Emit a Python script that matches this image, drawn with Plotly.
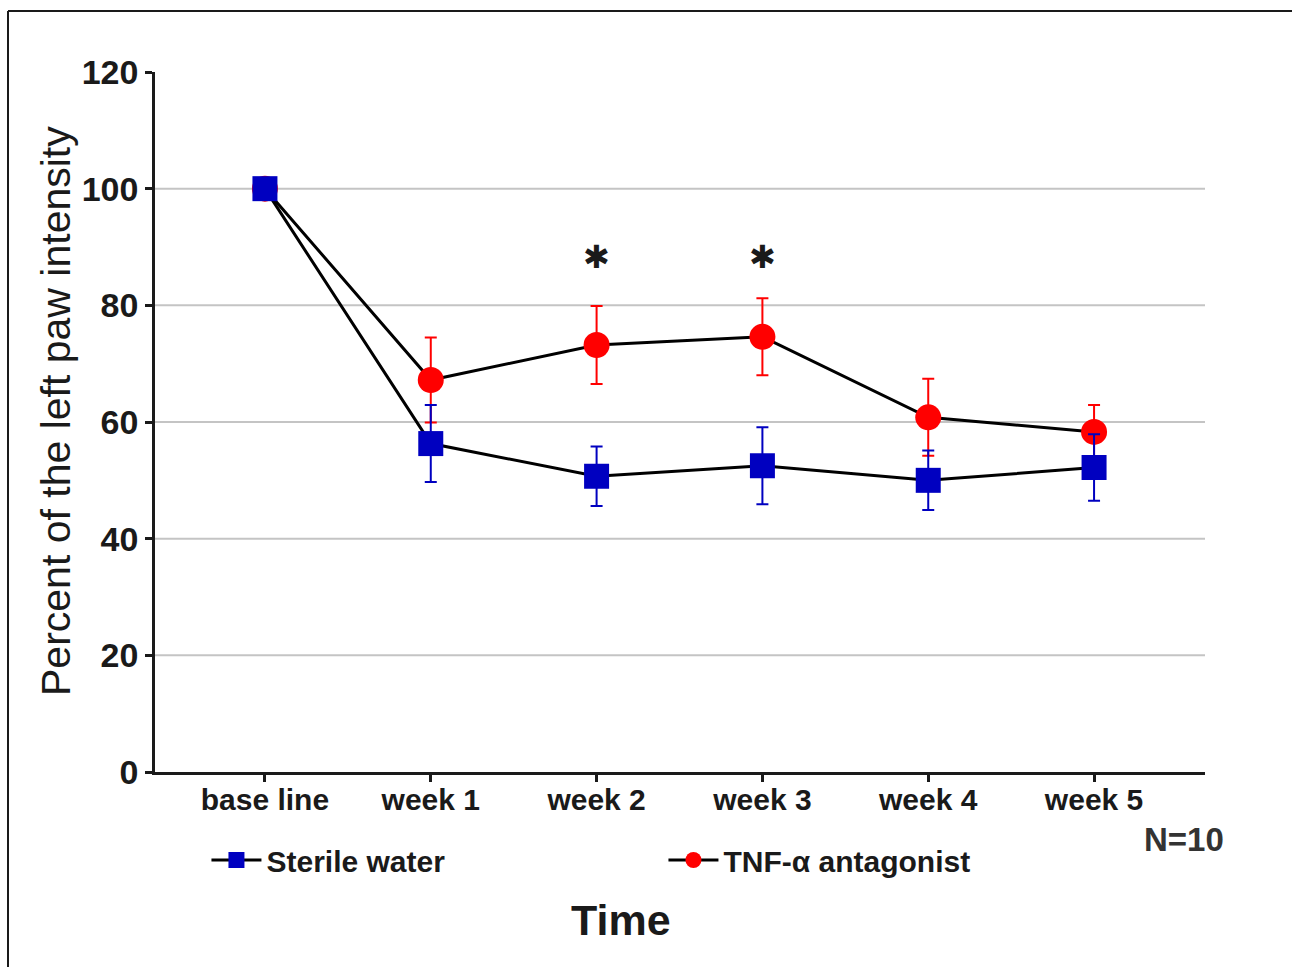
import plotly.graph_objects as go

# Time points and group means (percent of baseline) with error bars
timepoints = ["base line", "week 1", "week 2", "week 3", "week 4", "week 5"]
tnf_mean = [100, 67.2, 73.2, 74.6, 60.8, 58.3]
tnf_err = [0, 7.3, 6.7, 6.6, 6.6, 4.6]
water_mean = [100, 56.3, 50.7, 52.5, 50.0, 52.2]
water_err = [0, 6.6, 5.1, 6.6, 5.1, 5.7]
significant_points = ["week 2", "week 3"]
significance_level = 88.3
y_ticks = [0, 20, 40, 60, 80, 100, 120]
grid_levels = [20, 40, 60, 80, 100]

FONT = "Liberation Sans, Arial, sans-serif"
INK = "#1a1a1a"
BLUE = "#0000c0"
RED = "#ff0000"

fig = go.Figure()

fig.add_trace(go.Scatter(
    x=timepoints, y=tnf_mean, name="TNF-α antagonist", mode="lines+markers",
    line=dict(color="black", width=3),
    marker=dict(symbol="circle", size=26, color=RED, line=dict(width=0)),
    error_y=dict(type="data", array=tnf_err, visible=True, color=RED,
                 thickness=2, width=6),
    legendrank=2,
))
fig.add_trace(go.Scatter(
    x=timepoints, y=water_mean, name="Sterile water", mode="lines+markers",
    line=dict(color="black", width=3),
    marker=dict(symbol="square", size=25, color=BLUE, line=dict(width=0)),
    error_y=dict(type="data", array=water_err, visible=True, color=BLUE,
                 thickness=2, width=6),
    legendrank=1,
))

# light horizontal gridlines below the data
for lvl in grid_levels:
    fig.add_shape(type="line", xref="paper", yref="y", x0=0, x1=1, y0=lvl, y1=lvl,
                  line=dict(color="#c4c4c4", width=2), layer="below")

# significance markers
for tp in significant_points:
    fig.add_annotation(x=tp, y=significance_level, xref="x", yref="y", text="✱",
                       showarrow=False, yanchor="middle",
                       font=dict(family="DejaVu Sans", size=32, color=INK))

# outer frame (left and top edges)
fig.add_shape(type="line", xref="paper", yref="paper", x0=-0.1400, x1=-0.1400,
              y0=1.0871, y1=-0.30, line=dict(color=INK, width=2))
fig.add_shape(type="line", xref="paper", yref="paper", x0=-0.1400, x1=1.10,
              y0=1.0871, y1=1.0871, line=dict(color=INK, width=2))

# axis titles
fig.add_annotation(x=-0.0943, y=0.5157, xref="paper", yref="paper",
                   text="Percent of the left paw intensity", textangle=-90,
                   showarrow=False, xanchor="center", yanchor="middle",
                   font=dict(family=FONT, size=41, color=INK))
fig.add_annotation(x=0.4438, y=-0.2114, xref="paper", yref="paper", text="<b>Time</b>",
                   showarrow=False, yanchor="middle",
                   font=dict(family=FONT, size=43, color=INK))
fig.add_annotation(x=1.0200, y=-0.0971, xref="paper", yref="paper", text="<b>N=10</b>",
                   showarrow=False, xanchor="right", yanchor="middle",
                   font=dict(family=FONT, size=33, color="#333333"))

fig.update_layout(
    width=1292, height=967,
    margin=dict(l=155, r=87, t=72, b=195),
    paper_bgcolor="white", plot_bgcolor="white",
    font=dict(family=FONT, color=INK),
    showlegend=True,
    legend=dict(orientation="h", x=0.049, y=-0.1257, xanchor="left", yanchor="middle",
                font=dict(family=FONT, size=30, color=INK, weight="bold"),
                entrywidth=392, bgcolor="rgba(0,0,0,0)", itemwidth=50),
    xaxis=dict(
        type="category", range=[-0.663, 5.669],
        showline=True, linecolor=INK, linewidth=2.5,
        ticks="outside", ticklen=7, tickwidth=2.5, tickcolor=INK,
        tickfont=dict(family=FONT, size=30, color=INK, weight="bold"),
        ticklabelstandoff=-8,
        showgrid=False, zeroline=False,
    ),
    yaxis=dict(
        range=[0, 120], tickvals=y_ticks,
        showline=True, linecolor=INK, linewidth=2.5,
        ticks="outside", ticklen=7, tickwidth=2.5, tickcolor=INK,
        tickfont=dict(family=FONT, size=34, color=INK, weight="bold"),
        showgrid=False, zeroline=False,
    ),
)

fig.write_html("out.html")
